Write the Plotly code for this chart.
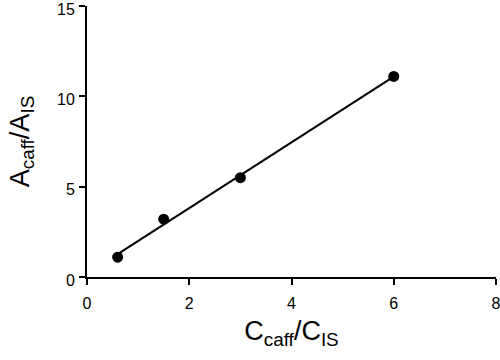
import plotly.graph_objects as go

# Data
conc_ratio = [0.6, 1.5, 3.0, 6.0]          # C_caff / C_IS
area_ratio = [1.1, 3.2, 5.5, 11.1]         # A_caff / A_IS
fit_x = [0.6, 6.0]
fit_y = [1.27, 11.09]

x_ticks = [0, 2, 4, 6, 8]
y_ticks = [0, 5, 10, 15]

fig = go.Figure()
fig.add_trace(go.Scatter(x=fit_x, y=fit_y, mode="lines",
                         line=dict(color="black", width=2), showlegend=False))
fig.add_trace(go.Scatter(x=conc_ratio, y=area_ratio, mode="markers",
                         marker=dict(color="black", size=11), showlegend=False))

axis_common = dict(showline=True, linecolor="black", linewidth=2,
                   ticks="outside", ticklen=6, tickwidth=2, tickcolor="black",
                   showgrid=False, zeroline=False, automargin=False,
                   ticklabeloverflow="allow",
                   tickfont=dict(family="Liberation Sans, Arial", size=16, color="black"))

fig.update_layout(
    width=500, height=360,
    margin=dict(l=87, r=4, t=6, b=83),
    paper_bgcolor="white", plot_bgcolor="white",
    xaxis=dict(range=[0, 8], tickvals=x_ticks, ticklabelstandoff=5, **axis_common,
               title=dict(text="C<sub>caff</sub>/C<sub>IS</sub>",
                          font=dict(family="Liberation Sans, Arial", size=27, color="black"),
                          standoff=10)),
    yaxis=dict(range=[0, 15], tickvals=y_ticks, ticklabelstandoff=1, ticklabelshift=3,
               **axis_common,
               title=dict(text="A<sub>caff</sub>/A<sub>IS</sub>",
                          font=dict(family="Liberation Sans, Arial", size=27, color="black"),
                          standoff=20)),
)
fig.write_html("out.html", config={"displayModeBar": False},
               post_script="document.body.style.margin='0';document.body.style.overflow='hidden';")
